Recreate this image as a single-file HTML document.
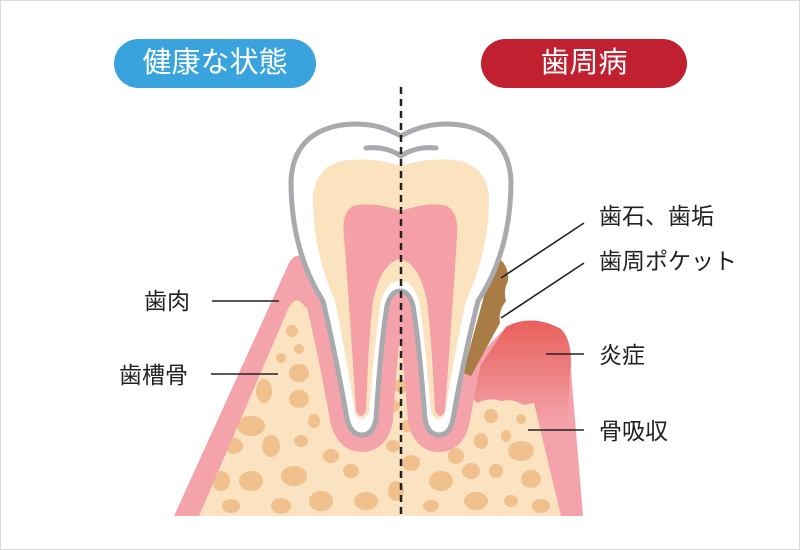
<!DOCTYPE html>
<html><head><meta charset="utf-8"><style>
html,body{margin:0;padding:0;background:#fff}
.wrap{position:relative;width:800px;height:550px;box-sizing:border-box;border:1px solid #d9d9d9;overflow:hidden;font-family:"Liberation Sans","Noto Sans CJK JP",sans-serif}
.pill{position:absolute;top:38px;height:49px;border-radius:25px;color:#fff;font-size:29px;line-height:49px;text-align:center}
.lbl{position:absolute;font-size:23px;color:#222;line-height:28px;white-space:nowrap}
</style></head><body><div class="wrap">
<svg width="800" height="550" style="position:absolute;left:0;top:0">
<defs>
<linearGradient id="inf" x1="0" y1="0" x2="0" y2="1">
<stop offset="0" stop-color="#e9605c"/><stop offset="0.55" stop-color="#ee8a8c"/><stop offset="1" stop-color="#f4a3aa" stop-opacity="0"/>
</linearGradient>
<clipPath id="gumclip"><path d="M173,515 L288,262 Q297,247 307,262 L400,290 L468,365 L505,326 Q530,312 560,328 Q572,340 570,370 L582,515 Z"/></clipPath>
<clipPath id="boneclip"><path d="M198,515 L288,306 Q296,293 304,306 L400,310 L476,402 Q490,396 500,400 Q512,397 522,404 L533,402 L560,515 Z"/></clipPath>
<clipPath id="toothclip"><path d="M400,135 Q370,118 335,125 Q292,135 290,180 Q290,250 322,300 Q336,360 346,418 Q350,434 361,434 Q372,434 375,418 Q380,340 386,305 Q390,290 399,290 Q408,290 412,305 Q418,340 424,418 Q427,434 438,434 Q449,434 452,418 Q462,360 477,300 Q510,250 510,180 Q508,135 465,125 Q430,118 400,135 Z"/></clipPath>
</defs>
<!-- gum -->
<path d="M173,515 L288,262 Q297,247 307,262 L400,290 L468,365 L505,326 Q530,312 560,328 Q572,340 570,370 L582,515 Z" fill="#f4a3aa"/>
<path d="M466,385 L505,326 Q530,312 560,328 Q572,340 569,372 L566,440 L530,420 L470,420 Z" fill="url(#inf)"/>
<!-- bone -->
<path d="M198,515 L288,306 Q296,293 304,306 L400,310 L476,402 Q490,396 500,400 Q512,397 522,404 L533,402 L560,515 Z" fill="#fbe2c0"/>
<g clip-path="url(#boneclip)" fill="#f0c08d">
<ellipse cx="291" cy="330" rx="6" ry="6"/><ellipse cx="298" cy="348" rx="5" ry="5"/><ellipse cx="280" cy="357" rx="5" ry="5"/>
<ellipse cx="298" cy="372" rx="10" ry="9"/><ellipse cx="263" cy="390" rx="8" ry="12"/><ellipse cx="298" cy="398" rx="10" ry="9"/>
<ellipse cx="250" cy="425" rx="14" ry="10"/><ellipse cx="313" cy="420" rx="6" ry="7"/><ellipse cx="233" cy="445" rx="9" ry="8"/>
<ellipse cx="270" cy="445" rx="9" ry="11"/><ellipse cx="300" cy="440" rx="7" ry="6"/><ellipse cx="330" cy="455" rx="8" ry="7"/>
<ellipse cx="220" cy="480" rx="9" ry="10"/><ellipse cx="250" cy="480" rx="12" ry="10"/><ellipse cx="293" cy="475" rx="13" ry="10"/>
<ellipse cx="350" cy="470" rx="8" ry="7"/><ellipse cx="365" cy="500" rx="12" ry="9"/><ellipse cx="320" cy="500" rx="12" ry="10"/>
<ellipse cx="280" cy="505" rx="10" ry="8"/><ellipse cx="230" cy="505" rx="9" ry="7"/><ellipse cx="400" cy="385" rx="7" ry="7"/>
<ellipse cx="393" cy="405" rx="6" ry="6"/><ellipse cx="406" cy="425" rx="6" ry="6"/><ellipse cx="392" cy="445" rx="7" ry="6"/>
<ellipse cx="410" cy="462" rx="9" ry="8"/><ellipse cx="395" cy="490" rx="8" ry="10"/><ellipse cx="440" cy="480" rx="12" ry="10"/>
<ellipse cx="430" cy="505" rx="8" ry="6"/><ellipse cx="470" cy="470" rx="9" ry="8"/><ellipse cx="475" cy="500" rx="12" ry="9"/>
<ellipse cx="490" cy="415" rx="7" ry="7"/><ellipse cx="520" cy="418" rx="5" ry="5"/><ellipse cx="505" cy="435" rx="5" ry="6"/>
<ellipse cx="480" cy="440" rx="7" ry="8"/><ellipse cx="520" cy="450" rx="13" ry="10"/><ellipse cx="495" cy="470" rx="7" ry="7"/>
<ellipse cx="530" cy="478" rx="10" ry="9"/><ellipse cx="510" cy="500" rx="7" ry="6"/><ellipse cx="540" cy="505" rx="9" ry="7"/>
<ellipse cx="460" cy="430" rx="6" ry="6"/><ellipse cx="455" cy="455" rx="8" ry="8"/>
</g>
<!-- pink band around roots -->
<g clip-path="url(#gumclip)">
<path d="M400,135 Q370,118 335,125 Q292,135 290,180 Q290,250 322,300 Q336,360 346,418 Q350,434 361,434 Q372,434 375,418 Q380,340 386,305 Q390,290 399,290 Q408,290 412,305 Q418,340 424,418 Q427,434 438,434 Q449,434 452,418 Q462,360 477,300 Q510,250 510,180 Q508,135 465,125 Q430,118 400,135 Z" fill="none" stroke="#f4a3aa" stroke-width="34" stroke-linejoin="round"/>
</g>
<!-- calculus -->
<path d="M494,255 Q508,262 507,280 Q502,290 505,300 Q497,310 499,322 Q488,342 470,375 L462,372 Z" fill="#a97c45"/>
<!-- tooth -->
<g clip-path="url(#toothclip)">
<rect x="280" y="110" width="240" height="340" fill="#fff"/>
<path d="M400,165 Q370,155 340,160 Q312,168 312,200 Q312,250 334,300 Q346,360 354,412 Q360,424 368,412 Q374,340 380,300 Q386,280 399,280 Q412,280 418,300 Q424,340 430,412 Q438,424 444,412 Q452,360 465,300 Q488,250 488,200 Q488,168 460,160 Q430,155 400,165 Z" fill="#fce3c0"/>
<path d="M400,210 Q372,200 352,205 Q340,212 343,235 Q348,300 355,410 Q360,420 365,410 Q368,330 372,300 Q380,262 399,258 Q418,262 426,300 Q430,330 434,410 Q440,420 444,410 Q452,300 456,235 Q458,212 446,205 Q428,200 400,210 Z" fill="#f4a0a6"/>
</g>
<path d="M400,135 Q370,118 335,125 Q292,135 290,180 Q290,250 322,300 Q336,360 346,418 Q350,434 361,434 Q372,434 375,418 Q380,340 386,305 Q390,290 399,290 Q408,290 412,305 Q418,340 424,418 Q427,434 438,434 Q449,434 452,418 Q462,360 477,300 Q510,250 510,180 Q508,135 465,125 Q430,118 400,135 Z" fill="none" stroke="#a9aaad" stroke-width="5"/>
<path d="M365,147 Q385,145 400,155 Q415,145 435,147" fill="none" stroke="#a9aaad" stroke-width="5" stroke-linecap="round"/>
<!-- dashed line -->
<line x1="400" y1="86" x2="400" y2="515" stroke="#222" stroke-width="2.5" stroke-dasharray="7,5"/>
<!-- leaders -->
<g stroke="#222" stroke-width="1.6">
<line x1="211" y1="300" x2="278" y2="300"/>
<line x1="210" y1="373" x2="277" y2="373"/>
<line x1="500" y1="277" x2="583" y2="222"/>
<line x1="500" y1="317" x2="583" y2="262"/>
<line x1="545" y1="353" x2="583" y2="353"/>
<line x1="527" y1="429" x2="583" y2="429"/>
</g>
</svg>
<div class="pill" style="left:113px;width:202px;background:#39a3de">健康な状態</div>
<div class="pill" style="left:480px;width:206px;background:#c0202f">歯周病</div>
<div class="lbl" style="left:143px;top:286px">歯肉</div>
<div class="lbl" style="left:118px;top:360px">歯槽骨</div>
<div class="lbl" style="left:598px;top:201px">歯石、歯垢</div>
<div class="lbl" style="left:598px;top:246px">歯周ポケット</div>
<div class="lbl" style="left:598px;top:340px">炎症</div>
<div class="lbl" style="left:598px;top:416px">骨吸収</div>
</div></body></html>
